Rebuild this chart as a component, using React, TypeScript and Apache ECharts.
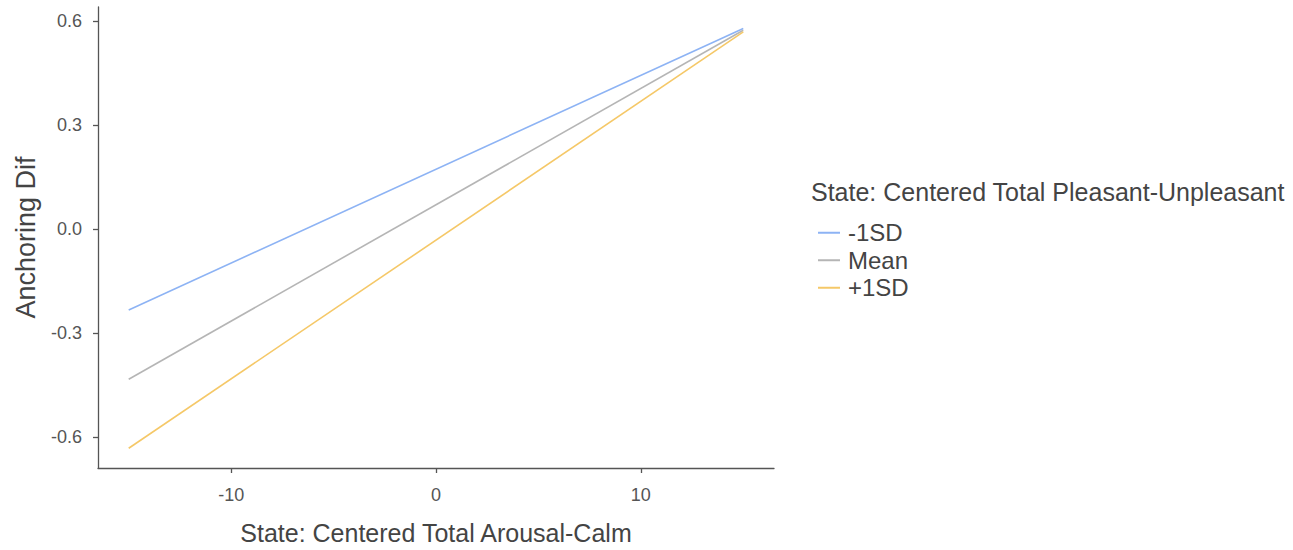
import React, { useEffect, useRef } from "react";
import * as echarts from "echarts";

const xValues = [-15, 15];
const minus1SD = [-0.234, 0.578];
const meanLine = [-0.434, 0.573];
const plus1SD = [-0.633, 0.568];
const seriesNames = ["-1SD", "Mean", "+1SD"];
const seriesColors = ["#8db3f4", "#b5b5b5", "#f5c868"];
const xTicks = [-10, 0, 10];
const yTicks = [-0.6, -0.3, 0, 0.3, 0.6];

const FONT = "'Liberation Sans', Arial, sans-serif";
const AXIS_COLOR = "#555555";
const TICK_LEN = 5;
const X_MIN = -16.5;
const X_MAX = 16.5;
const Y_MIN = -0.69;
const Y_MAX = 0.64;

export default function App() {
  const ref = useRef<HTMLDivElement>(null);
  useEffect(() => {
    if (!ref.current) return;
    const chart = echarts.init(ref.current, undefined, { renderer: "svg" });
    const seriesData = [minus1SD, meanLine, plus1SD];
    const legendTitle = {
      id: "legendTitle",
      type: "text",
      left: 811,
      top: 179,
      style: { text: "State: Centered Total Pleasant-Unpleasant", fontSize: 25, fill: "#444444", fontFamily: FONT },
    };
    chart.setOption({
      animation: false,
      backgroundColor: "#ffffff",
      textStyle: { fontFamily: FONT },
      grid: { left: 98, right: 519, top: 7, bottom: 81 },
      xAxis: [
        {
          type: "value",
          min: X_MIN,
          max: X_MAX,
          name: "State: Centered Total Arousal-Calm",
          nameLocation: "middle",
          nameGap: 52,
          nameTextStyle: { fontSize: 25, color: "#444444", fontFamily: FONT },
          axisLine: { show: true, onZero: true, onZeroAxisIndex: 1, lineStyle: { color: AXIS_COLOR, width: 1.3 } },
          axisTick: { show: true, length: TICK_LEN, lineStyle: { color: AXIS_COLOR, width: 1.3 }, customValues: xTicks },
          axisLabel: { fontSize: 18, color: "#555555", margin: 18, customValues: xTicks, formatter: (v: number) => String(v) },
          splitLine: { show: false },
        },
        { type: "value", show: false, min: 0, max: 1, position: "top" },
      ],
      yAxis: [
        {
          type: "value",
          min: Y_MIN,
          max: Y_MAX,
          name: "Anchoring Dif",
          nameLocation: "middle",
          nameGap: 59,
          nameRotate: 90,
          nameTextStyle: { fontSize: 27, color: "#444444", fontFamily: FONT },
          axisLine: { show: true, onZero: true, onZeroAxisIndex: 1, lineStyle: { color: AXIS_COLOR, width: 1.3 } },
          axisTick: { show: true, length: TICK_LEN, lineStyle: { color: AXIS_COLOR, width: 1.3 }, customValues: yTicks },
          axisLabel: { fontSize: 18, color: "#555555", margin: 16, customValues: yTicks, formatter: (v: number) => v.toFixed(1) },
          splitLine: { show: false },
        },
        { type: "value", show: false, min: 0, max: 1, position: "right" },
      ],
      legend: {
        orient: "vertical",
        left: 813,
        top: 214,
        itemWidth: 22,
        itemHeight: 2,
        itemGap: 0,
        icon: "rect",
        data: seriesNames,
        textStyle: { fontSize: 24, color: "#444444", lineHeight: 27.5, padding: [0, 0, 0, 3], fontFamily: FONT },
      },
      graphic: [legendTitle],
      series: seriesNames.map((name, i) => ({
        name,
        type: "line",
        xAxisIndex: 0,
        yAxisIndex: 0,
        data: xValues.map((x, j) => [x, seriesData[i][j]]),
        symbol: "none",
        lineStyle: { color: seriesColors[i], width: 1.6 },
        itemStyle: { color: seriesColors[i] },
      })),
    });
    return () => chart.dispose();
  }, []);
  return <div ref={ref} style={{ position: "fixed", left: 0, top: 0, width: 1293, height: 550 }} />;
}
